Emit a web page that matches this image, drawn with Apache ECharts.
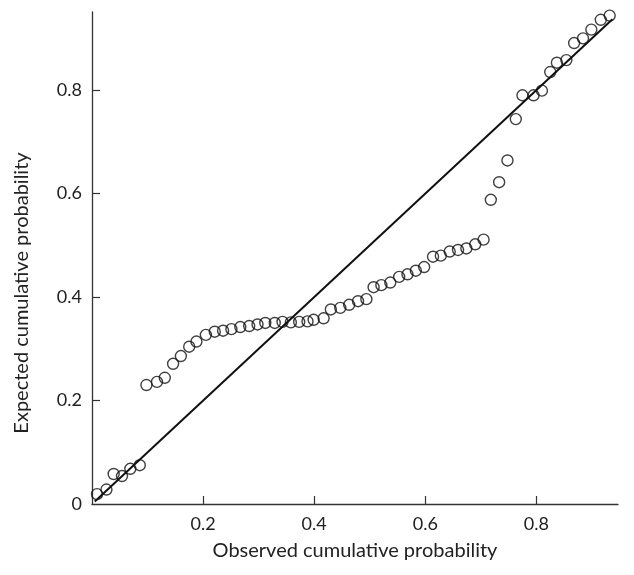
<!DOCTYPE html>
<html>
<head>
<meta charset="utf-8">
<script src="https://cdn.jsdelivr.net/npm/echarts@6/dist/echarts.min.js"></script>
<style>
html,body{margin:0;padding:0;background:#fff;}
#chart{width:634px;height:575px;}
</style>
</head>
<body>
<div id="chart"></div>
<script>
// Observed cumulative probability (x) of each point
const observed = [0.009,0.026,0.039,0.054,0.069,0.086,0.098,0.117,0.131,0.146,0.160,0.175,0.188,
  0.205,0.221,0.236,0.251,0.267,0.283,0.298,0.312,0.329,0.343,0.358,0.373,0.388,
  0.399,0.417,0.430,0.447,0.463,0.479,0.494,0.507,0.521,0.537,0.553,0.568,0.583,0.598,
  0.614,0.628,0.644,0.659,0.674,0.690,0.705,
  0.718,0.733,0.748,0.763,0.775,0.795,0.810,0.825,0.837,0.854,0.868,0.884,0.899,0.916,0.932];
// Expected cumulative probability (y) of each point
const expected = [0.019,0.028,0.058,0.054,0.068,0.075,0.230,0.236,0.244,0.271,0.286,0.304,0.314,
  0.327,0.333,0.335,0.338,0.342,0.344,0.347,0.350,0.350,0.352,0.351,0.352,0.353,
  0.356,0.359,0.376,0.379,0.385,0.392,0.396,0.419,0.423,0.428,0.439,0.444,0.451,0.458,
  0.478,0.480,0.488,0.491,0.494,0.502,0.511,
  0.588,0.622,0.664,0.744,0.790,0.790,0.799,0.835,0.853,0.858,0.891,0.900,0.917,0.936,0.944];
// Reference diagonal (y = x) endpoints
const diagonal = [0.005, 0.937];
// Tick labels
const xTicks = [0.2, 0.4, 0.6, 0.8];
const yTicks = [0, 0.2, 0.4, 0.6, 0.8];
const yTickMarks = [0.2, 0.4, 0.6, 0.8];
const xTitle = 'Observed cumulative probability';
const yTitle = 'Expected cumulative probability';

const points = observed.map((v, i) => [v, expected[i]]);
const lineData = diagonal.map(v => [v, v]);

const chart = echarts.init(document.getElementById('chart'), null, {renderer: 'canvas'});
const axisColor = '#333';
const FONT = 'Lato';
const labelFont = {fontFamily: FONT, fontSize: 18, color: '#222'};
chart.setOption({
  animation: false,
  backgroundColor: '#fff',
  grid: {left: 92, right: 16, top: 12, bottom: 71, containLabel: false},
  xAxis: {
    type: 'value', min: 0, max: 0.947,
    name: xTitle, nameLocation: 'middle', nameGap: 37,
    nameTextStyle: {fontFamily: FONT, fontSize: 20, color: '#222'},
    axisLine: {show: true, lineStyle: {color: axisColor, width: 1.3}},
    axisTick: {show: true, inside: true, length: 8, lineStyle: {color: axisColor, width: 1.2}, customValues: xTicks},
    axisLabel: Object.assign({margin: 11, customValues: xTicks, formatter: v => String(v)}, labelFont),
    splitLine: {show: false}
  },
  yAxis: {
    type: 'value', min: 0, max: 0.951,
    axisLine: {show: true, lineStyle: {color: axisColor, width: 1.3}},
    axisTick: {show: true, inside: true, length: 8, lineStyle: {color: axisColor, width: 1.2}, customValues: yTickMarks},
    axisLabel: Object.assign({margin: 10, customValues: yTicks, formatter: v => String(v)}, labelFont),
    splitLine: {show: false}
  },
  graphic: [{
    type: 'text', x: 22, y: 293, rotation: Math.PI / 2,
    style: {text: yTitle, fontFamily: FONT, fontSize: 20, fill: '#222', align: 'center', verticalAlign: 'middle'}
  }],
  series: [
    {
      type: 'line', data: lineData, showSymbol: false, symbol: 'none',
      lineStyle: {color: '#111', width: 2}, z: 2
    },
    {
      type: 'scatter', data: points, symbol: 'circle', symbolSize: 11,
      itemStyle: {color: 'rgba(255,255,255,0)', borderColor: '#111', borderWidth: 1.4}, z: 3
    }
  ]
});
</script>
</body>
</html>
